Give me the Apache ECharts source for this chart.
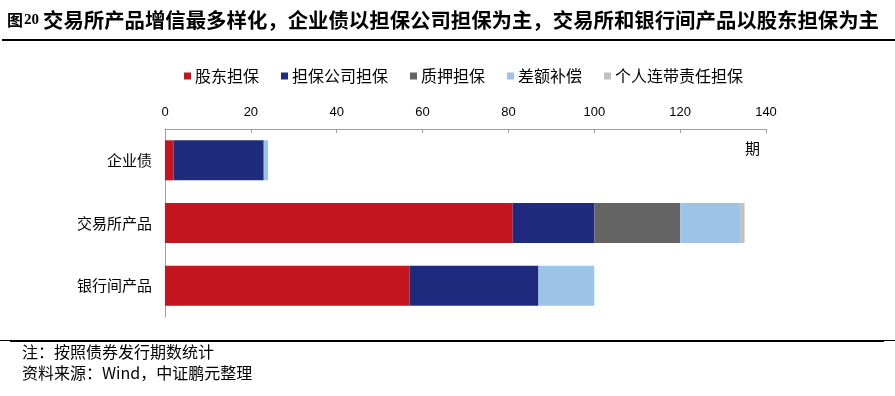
<!DOCTYPE html>
<html><head><meta charset="utf-8">
<script src="https://cdn.jsdelivr.net/npm/echarts@6/dist/echarts.min.js"></script>
<style>html,body{margin:0;padding:0;background:#fff}#c{width:895px;height:396px}</style>
</head><body><div id="c"></div>
<script>
const categories = ['企业债', '交易所产品', '银行间产品'];
const seriesNames = ['股东担保', '担保公司担保', '质押担保', '差额补偿', '个人连带责任担保'];
const gudong = [2, 81, 57];
const danbaoGongsi = [21, 19, 30];
const zhiya = [0, 20, 0];
const chae = [1, 14, 13];
const geren = [0, 1, 0];
const xTicks = [0, 20, 40, 60, 80, 100, 120, 140];
const colors = ['#C3141F', '#1E2A7E', '#646464', '#9DC3E6', '#C0C0C0'];
const seriesData = [gudong, danbaoGongsi, zhiya, chae, geren];

const chart = echarts.init(document.getElementById('c'));
const cjk = '"Noto Sans CJK SC", sans-serif';
chart.setOption({
  animation: false,
  color: colors,
  legend: {
    top: 63, left: 179,
    itemWidth: 7, itemHeight: 7, itemGap: 22,
    icon: 'rect',
    textStyle: { fontFamily: cjk, fontSize: 16, color: '#000', padding: [0, 0, 0, -1] },
    data: seriesNames
  },
  grid: { left: 165, right: 129, top: 129, bottom: 79 },
  xAxis: {
    type: 'value', position: 'top', min: xTicks[0], max: xTicks[xTicks.length - 1], interval: 20,
    axisLine: { show: true, lineStyle: { color: '#A0A0A0', width: 1 } },
    axisTick: { show: true, inside: true, length: 4, lineStyle: { color: '#A0A0A0' } },
    splitLine: { show: false },
    axisLabel: { fontFamily: 'Liberation Sans, Arial', fontSize: 13, color: '#000', margin: 10 }
  },
  yAxis: {
    type: 'category', inverse: true, data: categories,
    axisLine: { show: true, lineStyle: { color: '#A0A0A0' } },
    axisTick: { show: false },
    axisLabel: { fontFamily: cjk, fontSize: 15, color: '#000', margin: 13 }
  },
  series: seriesNames.map((n, i) => ({
    name: n, type: 'bar', stack: 'all', barWidth: 40,
    data: seriesData[i],
    itemStyle: { color: colors[i] }
  })),
  graphic: [
    { type: 'text', left: 7, top: 12, style: { text: '图', font: 'bold 16px "Noto Sans CJK SC"', fill: '#000' } },
    { type: 'text', left: 24, top: 13, style: { text: '20', font: 'bold 15px "Liberation Serif", serif', fill: '#000' } },
    { type: 'text', left: 43, top: 10, style: { text: '交易所产品增信最多样化，企业债以担保公司担保为主，交易所和银行间产品以股东担保为主', font: 'bold 20.4px "Noto Sans CJK SC"', fill: '#000' } },
    { type: 'rect', shape: { x: 2, y: 39, width: 893, height: 2 }, style: { fill: '#000' } },
    { type: 'text', left: 745, top: 141, style: { text: '期', font: '15px "Noto Sans CJK SC"', fill: '#000' } },
    { type: 'rect', shape: { x: 0, y: 340, width: 895, height: 1 }, style: { fill: '#000' } },
    { type: 'rect', shape: { x: 10, y: 340, width: 874, height: 2 }, style: { fill: '#000' } },
    { type: 'text', left: 22, top: 344, style: { text: '注：按照债券发行期数统计', font: '16px "Noto Sans CJK SC"', fill: '#000' } },
    { type: 'text', left: 22, top: 365, style: { text: '资料来源：Wind，中证鹏元整理', font: '16px "Noto Sans CJK SC"', fill: '#000' } }
  ]
});
</script></body></html>
